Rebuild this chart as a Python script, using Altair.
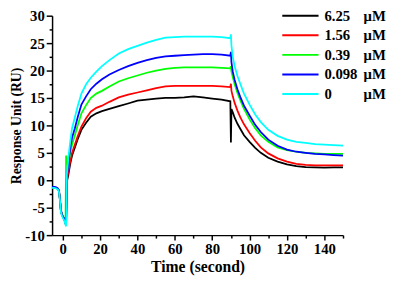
import altair as alt
import pandas as pd

# ---- data ----
times = [-5.7, -4.5, -3.5, -2.5, -2.0, -1.5, -1.0, -0.5, 0.0, 0.5, 1.0, 1.5, 1.8,
         2.2, 3, 4, 5, 6.5, 8, 10, 12.5, 15, 18, 21, 25, 30, 35, 40, 45, 50, 55, 60,
         65, 70, 75, 80, 85, 89.7,
         90.0, 90.3, 91, 92, 93.5, 95, 97, 100, 103, 106, 110, 115, 120, 125, 130,
         135, 140, 145, 150]

series_names = ["6.25 μM", "1.56 μM", "0.39 μM", "0.098 μM", "0 μM"]
series_colors = ["#000000", "#ff0000", "#00ff00", "#0000ff", "#00ffff"]

ru_625 = [-1.3, -1.3, -1.4, -1.6, -2.0, -3.5, -5.5, -6.2, -6.6, -6.9, -7.3, -7.9, -8.1,
          -0.3, 1.0, 3.0, 4.5, 6.0, 7.5, 9.2, 10.5, 11.6, 12.2, 12.6, 13.0, 13.5, 14.0,
          14.5, 14.7, 14.9, 15.0, 15.0, 15.1, 15.3, 15.1, 14.9, 14.7, 14.4,
          6.9, 13.0, 12.4, 11.4, 10.3, 9.4, 8.2, 7.0, 5.9, 5.0, 4.1, 3.4, 2.9, 2.6,
          2.4, 2.35, 2.3, 2.35, 2.35]
ru_156 = [-1.3, -1.3, -1.4, -1.6, -2.0, -3.5, -5.5, -6.2, -6.6, -6.9, -7.3, -7.9, -8.2,
          0.2, 1.5, 3.5, 5.0, 6.5, 8.0, 9.8, 11.3, 12.5, 13.2, 13.6, 14.3, 15.1, 15.6,
          16.0, 16.4, 16.8, 17.1, 17.2, 17.2, 17.2, 17.2, 17.2, 17.1, 17.0,
          17.6, 16.3, 15.3, 14.1, 12.7, 11.5, 10.2, 8.6, 7.2, 6.0, 4.9, 4.0, 3.4, 3.0,
          2.8, 2.7, 2.7, 2.7, 2.7]
ru_039 = [-1.3, -1.3, -1.4, -1.6, -2.0, -3.5, -5.5, -6.2, -6.6, -6.9, -7.3, -7.9, 4.5,
          3.0, 3.2, 5.0, 6.5, 8.2, 10.0, 12.2, 13.7, 15.0, 15.8, 16.3, 17.1, 18.0, 18.6,
          19.1, 19.6, 20.0, 20.3, 20.5, 20.6, 20.6, 20.6, 20.6, 20.5, 20.4,
          20.8, 19.8, 18.8, 17.5, 15.9, 14.6, 13.0, 11.1, 9.5, 8.2, 7.0, 6.0, 5.5, 5.2,
          5.0, 4.9, 4.8, 4.8, 4.8]
ru_0098 = [-1.2, -1.2, -1.3, -1.5, -1.9, -3.4, -5.4, -6.1, -6.5, -6.8, -7.2, -7.8, -8.1,
           0.5, 3.0, 5.8, 7.8, 9.5, 11.5, 13.8, 15.3, 16.6, 17.6, 18.4, 19.3, 20.1, 20.8,
           21.4, 21.9, 22.3, 22.6, 22.7, 22.8, 22.9, 23.0, 23.0, 22.9, 22.7,
           23.4, 21.5, 19.8, 18.3, 16.6, 15.2, 13.6, 11.8, 10.1, 8.8, 7.4, 6.3, 5.6, 5.2,
           5.0, 4.8, 4.7, 4.6, 4.5]
ru_0 = [-1.4, -1.4, -1.5, -1.7, -2.1, -3.6, -5.7, -6.4, -6.8, -7.1, -7.5, -8.1, -8.4,
        1.0, 4.0, 7.0, 9.5, 11.5, 13.5, 15.8, 17.5, 18.7, 19.8, 20.8, 21.9, 23.1, 23.9,
        24.5, 25.1, 25.6, 26.0, 26.1, 26.2, 26.2, 26.2, 26.2, 26.1, 25.9,
        26.6, 24.5, 22.5, 20.8, 19.0, 17.6, 15.8, 13.8, 12.0, 10.6, 9.2, 8.1, 7.4, 7.0,
        6.8, 6.6, 6.5, 6.4, 6.3]

series_values = [ru_625, ru_156, ru_039, ru_0098, ru_0]

legend_numbers = ["6.25", "1.56", "0.39", "0.098", "0"]
legend_unit = "μM"

x_tick_values = [0, 10, 20, 30, 40, 50, 60, 70, 80, 90, 100, 110, 120, 130, 140, 150]
y_tick_values = [-10, -7.5, -5, -2.5, 0, 2.5, 5, 7.5, 10, 12.5, 15, 17.5, 20, 22.5, 25, 27.5, 30]

rows = []
for name, vals in zip(series_names, series_values):
    for t, v in zip(times, vals):
        rows.append({"t": t, "ru": v, "series": name})
df = pd.DataFrame(rows)

leg = pd.DataFrame({
    "row": list(range(len(legend_numbers))),
    "num": legend_numbers,
    "unit": [legend_unit] * len(legend_numbers),
    "series": series_names,
})

FONT = "Liberation Serif"
color_scale = alt.Scale(domain=series_names, range=series_colors)

x_axis = alt.Axis(
    title="Time (second)", values=x_tick_values,
    labelExpr="datum.value % 20 === 0 && datum.value <= 140 ? '' + datum.value : ''",
    tickSize={"condition": {"test": "datum.value % 20 === 0", "value": 5}, "value": 3},
    titleFontSize=16, titlePadding=2, labelPadding=2,
)
y_axis = alt.Axis(
    title="Response Unit (RU)", values=y_tick_values,
    labelExpr="datum.value % 5 === 0 ? '' + datum.value : ''",
    tickSize={"condition": {"test": "datum.value % 5 === 0", "value": 6}, "value": 3},
    titleFontSize=14, titlePadding=1, labelPadding=2,
)

lines = alt.Chart(df).mark_line(strokeWidth=1.8).encode(
    x=alt.X("t:Q", scale=alt.Scale(domain=[-5.7, 150], nice=False, zero=False), axis=x_axis),
    y=alt.Y("ru:Q", scale=alt.Scale(domain=[-10, 30], nice=False, zero=False), axis=y_axis),
    color=alt.Color("series:N", scale=color_scale, legend=None, sort=series_names),
)

leg_y = alt.Y("row:Q", scale=alt.Scale(domain=[0, 4], range=[0, 80]), axis=None)

leg_lines = alt.Chart(leg).mark_rule(strokeWidth=2).encode(
    x=alt.value(235), x2=alt.value(272), y=leg_y,
    color=alt.Color("series:N", scale=color_scale, legend=None),
)
leg_nums = alt.Chart(leg).mark_text(
    align="left", baseline="middle", font=FONT, fontWeight="bold", fontSize=15, color="black"
).encode(x=alt.value(278), y=leg_y, text="num:N")
leg_units = alt.Chart(leg).mark_text(
    align="left", baseline="middle", font=FONT, fontWeight="bold", fontSize=15, color="black"
).encode(x=alt.value(318), y=leg_y, text="unit:N")

chart = alt.layer(lines, leg_lines, leg_nums, leg_units).resolve_scale(
    y="independent"
).properties(
    width=297, height=224,
    autosize=alt.AutoSizeParams(type="none"),
    padding={"left": 45, "top": 5, "right": 50, "bottom": 46},
).configure_view(stroke=None).configure_axis(
    grid=False,
    domainColor="black", domainWidth=1.5,
    tickColor="black", tickWidth=1.5,
    labelFont=FONT, labelFontWeight="bold", labelFontSize=15, labelColor="black",
    titleFont=FONT, titleFontWeight="bold", titleColor="black",
)

chart.save("out.html", embed_options={"renderer": "svg", "actions": False})
